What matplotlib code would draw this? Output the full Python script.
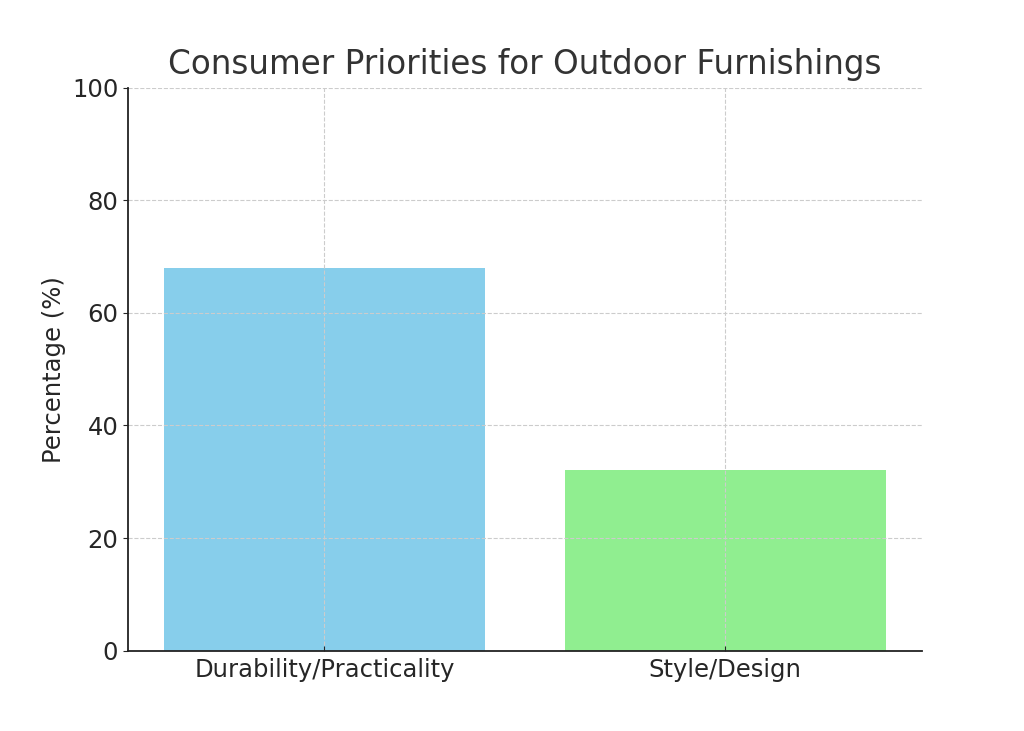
import matplotlib.pyplot as plt

# chart data
categories = ['Durability/Practicality', 'Style/Design']
percentages = [68, 32]
bar_colors = ['skyblue', 'lightgreen']

plt.rcParams['text.color'] = '#333333'
plt.rcParams['axes.labelcolor'] = '#262626'
plt.rcParams['xtick.color'] = '#262626'
plt.rcParams['ytick.color'] = '#262626'

fig, ax = plt.subplots(figsize=(10.24, 7.31), dpi=100)
ax.bar(categories, percentages, color=bar_colors, zorder=1)

ax.set_title('Consumer Priorities for Outdoor Furnishings', fontsize=23.5, pad=10)
ax.set_ylabel('Percentage (%)', fontsize=17.5)
ax.set_ylim(0, 100)

ax.tick_params(axis='both', labelsize=17.5)
ax.tick_params(axis='x', direction='in', pad=5)
ax.grid(True, linestyle='--', color='#cccccc', linewidth=0.8, zorder=0)

ax.spines['top'].set_visible(False)
ax.spines['right'].set_visible(False)
ax.spines['left'].set_color('#222222')
ax.spines['bottom'].set_color('#222222')
ax.spines['left'].set_linewidth(1.3)
ax.spines['bottom'].set_linewidth(1.3)

plt.savefig('out.png')
plt.close()
